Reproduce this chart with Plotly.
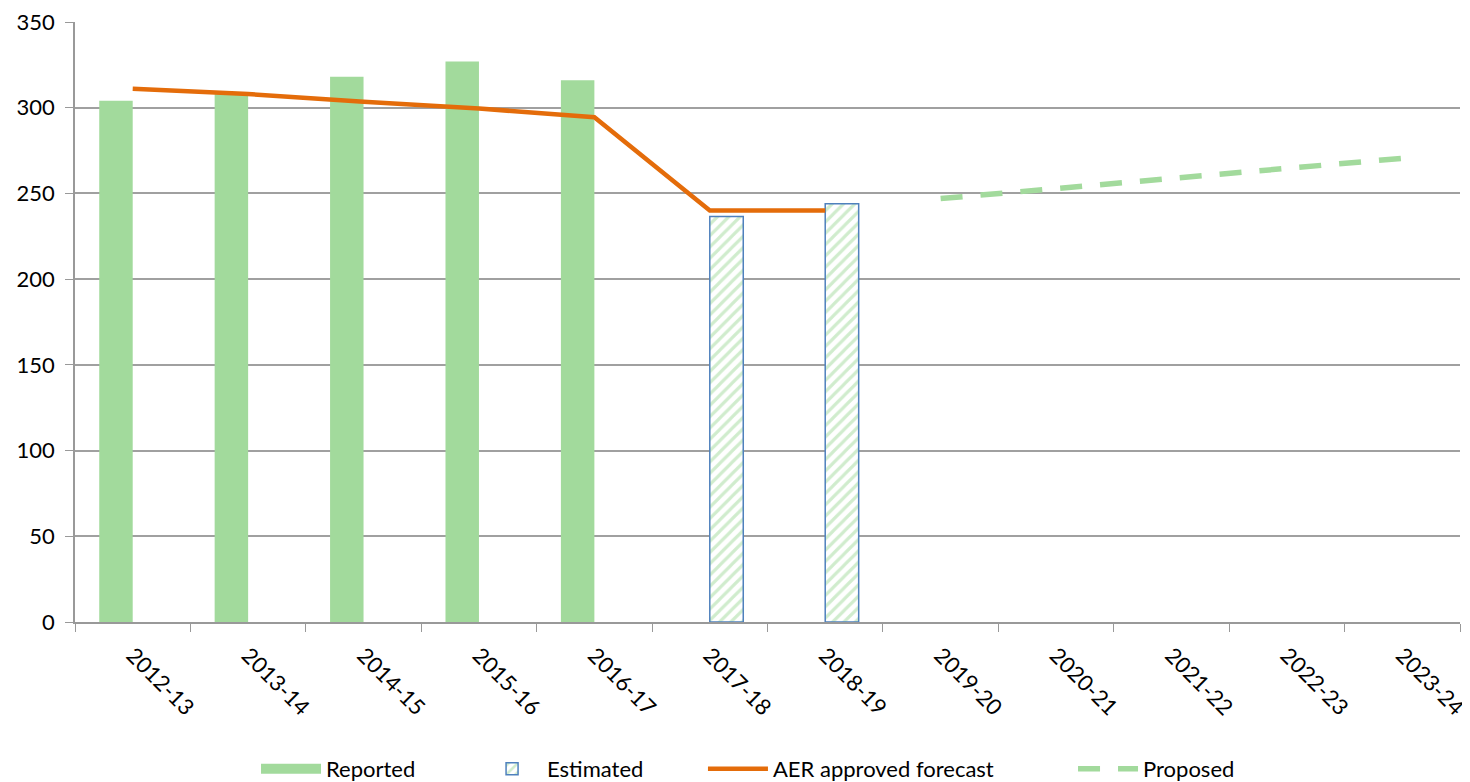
import plotly.graph_objects as go

years = ["2012-13", "2013-14", "2014-15", "2015-16", "2016-17", "2017-18",
         "2018-19", "2019-20", "2020-21", "2021-22", "2022-23", "2023-24"]
reported = [304, 308, 318, 327, 316, None, None, None, None, None, None, None]
estimated = [None, None, None, None, None, 236.5, 244, None, None, None, None, None]
aer_forecast = [311, 308, 303.5, 299.5, 294.5, 240, 240, None, None, None, None, None]
proposed = [None, None, None, None, None, None, None, 247, 253, 259, 265, 270.5]

GREEN = "#A2DA9C"
ORANGE = "#E46C0A"
BLUE = "#4F81BD"
FONT = "Lato, Open Sans, sans-serif"

fig = go.Figure()
fig.add_trace(go.Bar(x=years, y=reported, name="Reported", showlegend=False,
                     marker=dict(color=GREEN, line=dict(width=0))))
# legend-only entry drawing a wide solid swatch for "Reported"
fig.add_trace(go.Scatter(x=[None], y=[None], name="Reported", legend="legend",
                         mode="lines", line=dict(color=GREEN, width=20)))
fig.add_trace(go.Bar(x=years, y=estimated, name="Estimated", legend="legend2",
                     marker=dict(color="white",
                                 line=dict(color=BLUE, width=1.5),
                                 pattern=dict(shape="/", fgcolor=GREEN, bgcolor="white",
                                              size=8, solidity=0.4))))
fig.add_trace(go.Scatter(x=years, y=aer_forecast, name="AER approved forecast",
                         legend="legend3",
                         mode="lines", line=dict(color=ORANGE, width=4.5)))
fig.add_trace(go.Scatter(x=years, y=proposed, name="Proposed", legend="legend4",
                         mode="lines", line=dict(color=GREEN, width=5.5, dash="22px,18px")))

leg_common = dict(orientation="h", y=-0.21, yanchor="top", xanchor="left",
                  font=dict(size=22, family=FONT), itemwidth=60,
                  bgcolor="rgba(0,0,0,0)")

fig.update_layout(
    width=1462, height=775,
    margin=dict(l=67, r=10, t=14, b=161, autoexpand=False),
    plot_bgcolor="white", paper_bgcolor="white",
    barmode="group", bargap=0.42, bargroupgap=0,
    font=dict(family=FONT, size=22, color="black"),
    legend=dict(x=0.1307, **leg_common),
    legend2=dict(x=0.2903, **leg_common),
    legend3=dict(x=0.4534, **leg_common),
    legend4=dict(x=0.7206, **leg_common),
    showlegend=True,
)
fig.update_xaxes(type="category", tickangle=45, tickson="boundaries",
                 ticks="outside", ticklen=8, tickcolor="#999999",
                 showline=True, linecolor="#999999", linewidth=1.5,
                 showgrid=False, automargin=False, ticklabelstandoff=10,
                 ticklabeloverflow="allow",
                 tickfont=dict(size=22, family=FONT))
fig.update_yaxes(range=[0, 350], dtick=50, ticks="outside", ticklen=8,
                 tickcolor="#999999", showline=True, linecolor="#999999", linewidth=1.5,
                 showgrid=True, gridcolor="#A0A0A0", gridwidth=1.5, zeroline=False,
                 automargin=False, ticklabelstandoff=6, ticklabeloverflow="allow",
                 tickfont=dict(size=22, family=FONT))

fig.write_html("out.html")
